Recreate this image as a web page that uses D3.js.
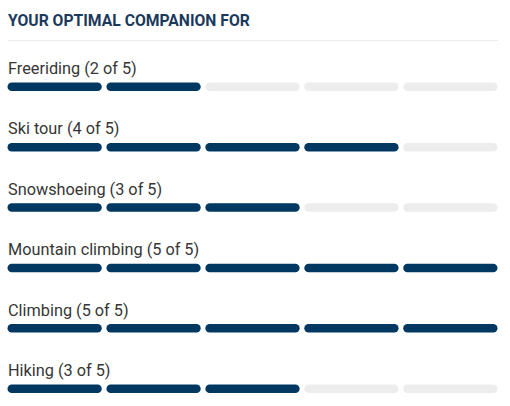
<!DOCTYPE html>
<html>
<head>
<meta charset="utf-8">
<script src="https://cdn.jsdelivr.net/npm/d3@7"></script>
<style>
  html, body { margin: 0; padding: 0; background: #ffffff; }
  svg { display: block; }
</style>
</head>
<body>
<script>
const title = "YOUR OPTIMAL COMPANION FOR";
const categories = ["Freeriding", "Ski tour", "Snowshoeing", "Mountain climbing", "Climbing", "Hiking"];
const ratings = [2, 4, 3, 5, 5, 3];
const maxRating = 5;
const segments = d3.range(maxRating);

const W = 510, H = 406;
const svg = d3.select("body").append("svg").attr("width", W).attr("height", H);

const x = d3.scaleBand().domain(segments).range([7.5, 497.5]).paddingInner(0.047);
const y = d3.scalePoint().domain(categories).range([82.5, 384.5]);
const barH = 8.5;

svg.append("text")
  .attr("x", 8).attr("y", 26)
  .attr("font-family", "Roboto, sans-serif")
  .attr("font-weight", "bold")
  .attr("font-size", 15.7)
  .attr("fill", "#1b3a5b")
  .text(title);

svg.append("line")
  .attr("x1", 8).attr("x2", 498)
  .attr("y1", 40.5).attr("y2", 40.5)
  .attr("stroke", "#ebebeb").attr("stroke-width", 1);

const rows = svg.selectAll("g.row")
  .data(categories.map((c, i) => ({ name: c, value: ratings[i] })))
  .join("g").attr("class", "row")
  .attr("transform", d => `translate(0,${y(d.name)})`);

rows.append("text")
  .attr("x", 8).attr("y", -8.5)
  .attr("font-family", "Roboto, sans-serif")
  .attr("font-size", 16.3)
  .attr("fill", "#363636")
  .text(d => `${d.name} (${d.value} of ${maxRating})`);

rows.selectAll("rect")
  .data(d => segments.map(s => ({ s, on: s < d.value })))
  .join("rect")
  .attr("x", d => x(d.s))
  .attr("y", 0)
  .attr("width", x.bandwidth())
  .attr("height", barH)
  .attr("rx", 4.25)
  .attr("fill", d => d.on ? "#003862" : "#ededed");
</script>
</body>
</html>
